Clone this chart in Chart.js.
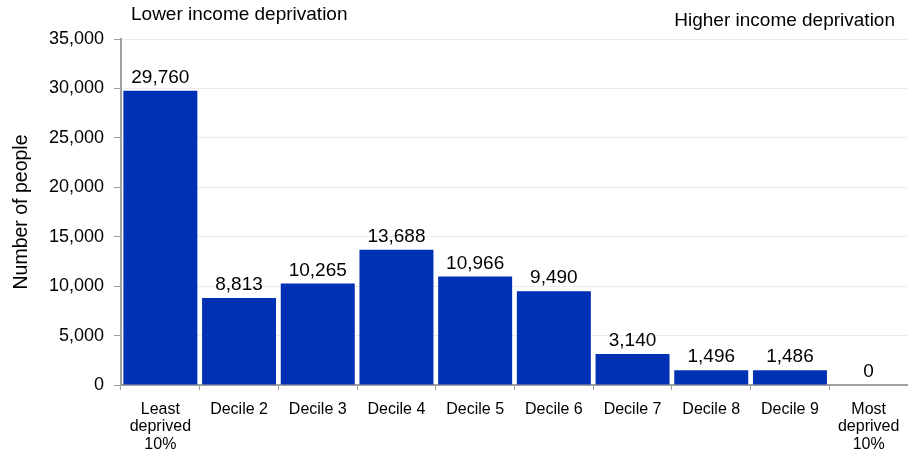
<!DOCTYPE html>
<html>
<head>
<meta charset="utf-8">
<script src="https://cdn.jsdelivr.net/npm/chart.js@4.4.0/dist/chart.umd.min.js"></script>
<style>
  html, body { margin: 0; padding: 0; background: #fff; }
  #wrap { width: 908px; height: 451px; position: relative; }
</style>
</head>
<body>
<div id="wrap"><canvas id="chart"></canvas></div>
<script>
// deciles of income deprivation
const categories = [
    ['Least', 'deprived', '10%'], 'Decile 2', 'Decile 3', 'Decile 4', 'Decile 5',
    'Decile 6', 'Decile 7', 'Decile 8', 'Decile 9', ['Most', 'deprived', '10%']
];
const people = [29760, 8813, 10265, 13688, 10966, 9490, 3140, 1496, 1486, 0];
const yTicks = [0, 5000, 10000, 15000, 20000, 25000, 30000, 35000];

const FONT = 'Arial, "Liberation Sans", sans-serif';

// value labels above bars + the two corner notes
const labelsPlugin = {
    id: 'barLabels',
    afterDatasetsDraw(chart) {
        const ctx = chart.ctx;
        const meta = chart.getDatasetMeta(0);
        ctx.save();
        ctx.font = '19px ' + FONT;
        ctx.fillStyle = '#000';
        ctx.textAlign = 'center';
        ctx.textBaseline = 'alphabetic';
        meta.data.forEach(function (bar, i) {
            ctx.fillText(people[i].toLocaleString('en-GB'), bar.x, bar.y - 8);
        });
        ctx.textAlign = 'left';
        ctx.fillText('Lower income deprivation', 131, 20);
        ctx.textAlign = 'right';
        ctx.fillText('Higher income deprivation', 895, 26);
        ctx.restore();
    }
};

new Chart(document.getElementById('chart'), {
    type: 'bar',
    data: {
        labels: categories,
        datasets: [{
            data: people,
            backgroundColor: '#0030b4',
            barPercentage: 0.94,
            categoryPercentage: 1
        }]
    },
    options: {
        responsive: true,
        maintainAspectRatio: false,
        animation: false,
        layout: { padding: { top: 39, right: 0, left: 0, bottom: 0 } },
        plugins: {
            legend: { display: false },
            tooltip: { enabled: false }
        },
        scales: {
            x: {
                offset: true,
                afterFit(axis) {
                    axis.height = 66;
                    axis.paddingLeft = 0;
                    axis.paddingRight = 0;
                },
                grid: {
                    offset: true,
                    drawOnChartArea: false,
                    tickLength: 5,
                    tickColor: '#a0a0a0'
                },
                border: { color: '#a0a0a0', width: 2 },
                ticks: {
                    color: '#000',
                    font: { family: FONT, size: 16, lineHeight: 1.08 },
                    maxRotation: 0,
                    autoSkip: false,
                    padding: 11
                }
            },
            y: {
                min: 0,
                max: 35000,
                afterBuildTicks(axis) {
                    axis.ticks = yTicks.map(v => ({ value: v }));
                },
                afterFit(axis) { axis.width = 121; },
                grid: {
                    color: '#ececec',
                    tickColor: '#a0a0a0',
                    tickLength: 7
                },
                border: { color: '#a0a0a0', width: 2 },
                title: {
                    display: true,
                    text: 'Number of people',
                    color: '#000',
                    font: { family: FONT, size: 19.5 },
                    padding: { top: 10, bottom: 0 }
                },
                ticks: {
                    color: '#000',
                    font: { family: FONT, size: 18 },
                    padding: 10,
                    callback: v => v.toLocaleString('en-GB')
                }
            }
        }
    },
    plugins: [labelsPlugin]
});
</script>
</body>
</html>
